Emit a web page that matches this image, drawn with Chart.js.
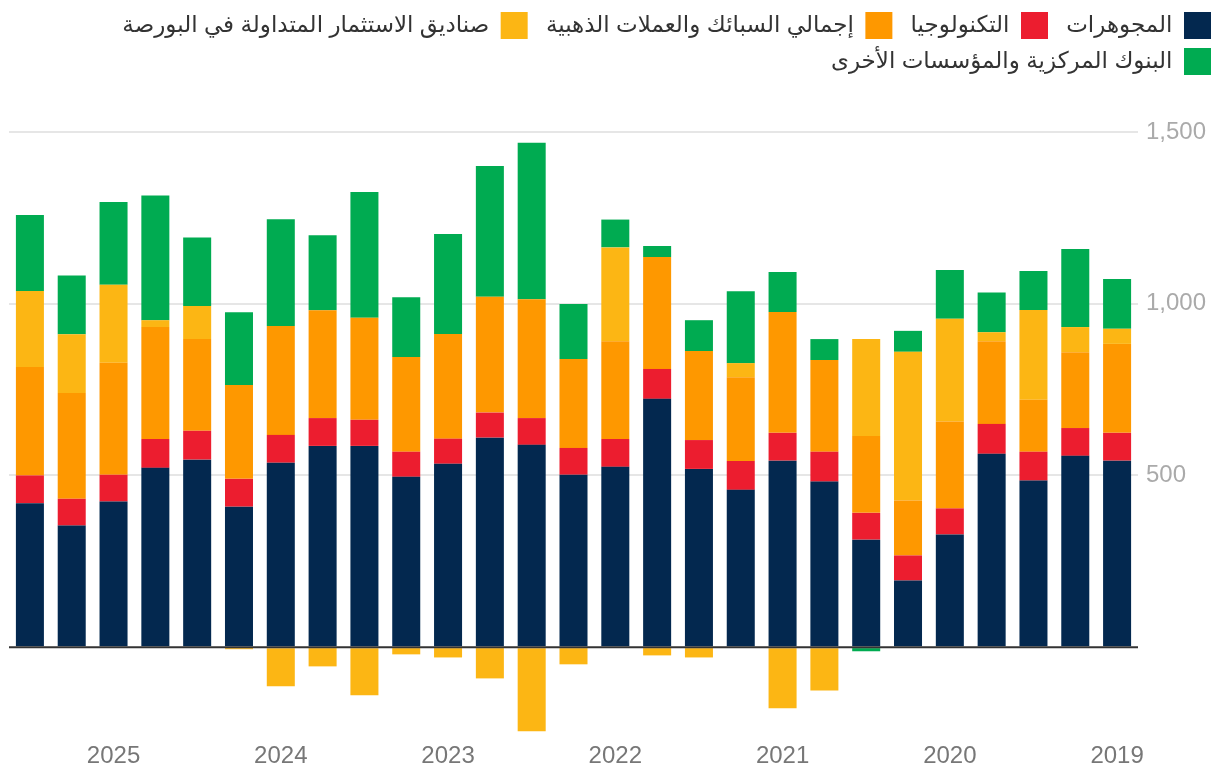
<!DOCTYPE html>
<html lang="ar">
<head>
<meta charset="utf-8">
<script src="https://cdn.jsdelivr.net/npm/chart.js@4.4.1/dist/chart.umd.min.js"></script>
<style>
  html, body { margin: 0; padding: 0; background: #fff; }
  #wrap { width: 1220px; height: 784px; }
</style>
</head>
<body>
<div id="wrap"><canvas id="barChart"></canvas></div>
<script>
// quarters 2019 Q1 .. 2025 Q3 (axis drawn right-to-left)
var years = ["2019","2019","2019","2019","2020","2020","2020","2020","2021","2021","2021","2021",
             "2022","2022","2022","2022","2023","2023","2023","2023","2024","2024","2024","2024",
             "2025","2025","2025"];

var jewellery = [543, 557, 485, 563, 328, 194, 313, 482, 543, 458, 519, 723, 525, 502,
                 589, 610, 534, 496, 586, 586, 537, 409, 546, 522, 424, 354, 419];
var technology = [81, 81, 84, 87, 76, 73, 78, 87, 81, 84, 84, 87, 81, 78,
                  78, 73, 73, 73, 76, 81, 81, 81, 84, 84, 78, 78, 81];
var barCoin = [259, 221, 151, 241, 253, 160, 224, 267, 352, 244, 259, 326, 285, 259,
               346, 337, 305, 276, 297, 314, 317, 273, 267, 326, 326, 308, 316];
var etfs = [44, 73, 262, 26, 299, 433, 282, -126, -178, 41, -30, -24, 273, -50,
            -245, -91, -30, -21, -140, -56, -114, -6, 96, 20, 227, 171, 221];
var centralBanks = [145, 227, 113, 116, 142, 61, -12, 61, 116, 209, 90, 32, 81, 160,
                    456, 381, 291, 174, 366, 218, 311, 212, 200, 363, 241, 171, 221];

var yTicks = [0, 500, 1000, 1500];

var fontFamily = "'Liberation Sans', Arial, 'DejaVu Sans', sans-serif";

var barData = {
    labels: years,
    datasets: [
        { label: "المجوهرات", backgroundColor: "#03284f", data: jewellery },
        { label: "التكنولوجيا", backgroundColor: "#ec1d2f", data: technology },
        { label: "إجمالي السبائك والعملات الذهبية", backgroundColor: "#fe9800", data: barCoin },
        { label: "صناديق الاستثمار المتداولة في البورصة", backgroundColor: "#fcb614", data: etfs },
        { label: "البنوك المركزية والمؤسسات الأخرى", backgroundColor: "#00ab51", data: centralBanks }
    ]
};

// make room under the legend
var legendGap = {
    id: 'legendGap',
    beforeInit: function (chart) {
        var fit = chart.legend.fit;
        chart.legend.fit = function () {
            fit.bind(chart.legend)();
            this.height += 47;
        };
    }
};

// dark zero line on top of the bars
var zeroLine = {
    id: 'zeroLine',
    afterDatasetsDraw: function (chart) {
        var ctx = chart.ctx, area = chart.chartArea;
        var y = chart.scales.y.getPixelForValue(0);
        ctx.save();
        ctx.strokeStyle = '#333333';
        ctx.lineWidth = 2;
        ctx.beginPath();
        ctx.moveTo(area.left, y);
        ctx.lineTo(area.right, y);
        ctx.stroke();
        ctx.restore();
    }
};

var barOptions = {
    responsive: true,
    maintainAspectRatio: false,
    animation: false,
    layout: { padding: { left: 9, right: 0, top: 3, bottom: 0 } },
    datasets: { bar: { categoryPercentage: 1, barPercentage: 0.67 } },
    plugins: {
        tooltip: { enabled: false },
        legend: {
            position: 'top',
            align: 'start',
            rtl: true,
            textDirection: 'rtl',
            labels: {
                boxWidth: 27,
                boxHeight: 27,
                padding: 9,
                color: '#333333',
                font: { family: fontFamily, size: 23 },
                generateLabels: function (chart) {
                    var items = Chart.defaults.plugins.legend.labels.generateLabels(chart);
                    items.forEach(function (it) { it.text = it.text + '\u2009\u2009'; });
                    return items;
                }
            }
        }
    },
    scales: {
        x: {
            stacked: true,
            reverse: true,
            grid: { display: false, drawTicks: false },
            border: { display: false },
            ticks: {
                autoSkip: false,
                maxRotation: 0,
                padding: 9,
                color: '#777777',
                font: { family: fontFamily, size: 24 },
                callback: function (val, idx) { return idx % 4 === 0 ? this.getLabelForValue(val) : ''; }
            },
            afterFit: function (scale) { scale.height = 51; }
        },
        y: {
            stacked: true,
            position: 'right',
            min: -250,
            max: 1500,
            border: { display: false },
            grid: {
                color: function (c) { return c.tick && c.tick.value === 0 ? 'rgba(0,0,0,0)' : '#e6e6e6'; },
                lineWidth: 2,
                drawTicks: false
            },
            afterBuildTicks: function (scale) {
                scale.ticks = yTicks.map(function (v) { return { value: v }; });
            },
            ticks: {
                padding: 8,
                color: '#aaaaaa',
                font: { family: fontFamily, size: 24 },
                callback: function (v) { return v === 0 ? '' : v.toLocaleString('en-US'); }
            },
            afterFit: function (scale) { scale.width = 82; }
        }
    }
};

var ctx2 = document.getElementById("barChart").getContext("2d");
new Chart(ctx2, { type: 'bar', data: barData, options: barOptions, plugins: [legendGap, zeroLine] });
</script>
</body>
</html>
